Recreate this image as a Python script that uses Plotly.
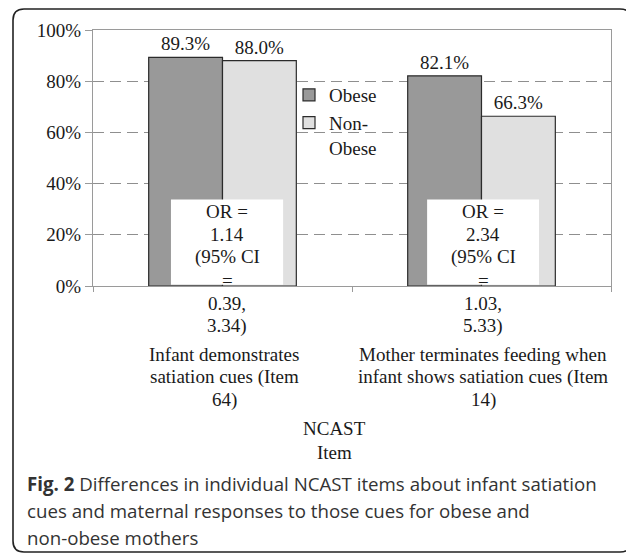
import plotly.graph_objects as go

# ---------------- data ----------------
categories = [
    "Infant demonstrates satiation cues (Item 64)",
    "Mother terminates feeding when infant shows satiation cues (Item 14)",
]
obese = [89.3, 82.1]
non_obese = [88.0, 66.3]
series_names = ["Obese", "Non-<br>Obese"]
y_ticks = [0, 20, 40, 60, 80, 100]
y_tick_labels = ["0%", "20%", "40%", "60%", "80%", "100%"]
category_label_lines = [
    ["Infant demonstrates", "satiation cues (Item", "64)"],
    ["Mother terminates feeding when", "infant shows satiation cues (Item", "14)"],
]
or_text_lines = [
    ["OR =", "1.14", "(95% CI", "=", "0.39,", "3.34)"],
    ["OR =", "2.34", "(95% CI", "=", "1.03,", "5.33)"],
]
axis_title_lines = ["NCAST", "Item"]
caption_lines = [
    "<b>Fig. 2</b> Differences in individual NCAST items about infant satiation",
    "cues and maternal responses to those cues for obese and",
    "non-obese mothers",
]

# ---------------- layout geometry ----------------
OFF = 8  # page body margin
W, H = 626, 547
L, R, T, B = 85, 23, 22, 269
PW, PH = W - L - R, H - T - B
BOTTOM = OFF + H - B  # screen y of the plot bottom
SERIF = "Liberation Serif, Times New Roman, serif"
TXT = "#1a1a1a"


def px_x(sx):
    return (sx - OFF - L) / PW


def px_y(sy):
    return (BOTTOM - sy) / PH


fig = go.Figure()
fig.add_trace(go.Bar(
    name=series_names[0], x=categories, y=obese,
    marker=dict(color="#999999", line=dict(color="#2b2b2b", width=1.2)),
    texttemplate="%{y:.1f}%", textposition="outside", cliponaxis=False,
    textfont=dict(family=SERIF, size=19, color=TXT),
))
fig.add_trace(go.Bar(
    name=series_names[1], x=categories, y=non_obese,
    marker=dict(color="#e0e0e0", line=dict(color="#2b2b2b", width=1.2)),
    texttemplate="%{y:.1f}%", textposition="outside", cliponaxis=False,
    textfont=dict(family=SERIF, size=19, color=TXT),
))

shapes = []
annotations = []
line_h = 23
# white OR boxes and their text
box_off = [(-0.199, 0.234), (-0.210, 0.222)]
for i, lines in enumerate(or_text_lines):
    x0, x1 = box_off[i]
    shapes.append(dict(type="rect", xref="x", yref="y", x0=i + x0, x1=i + x1,
                       y0=0.45, y1=33.8, fillcolor="white", line=dict(width=0),
                       layer="above"))
    cx = i + (x0 + x1) / 2
    for k, t in enumerate(lines):
        cy = 211 + k * line_h
        annotations.append(dict(text=t, xref="x", yref="paper", x=cx, y=0,
                                yshift=-(cy - BOTTOM), xanchor="center",
                                yanchor="middle", showarrow=False,
                                font=dict(family=SERIF, size=19, color=TXT)))
# category labels
for i, lines in enumerate(category_label_lines):
    for k, t in enumerate(lines):
        cy = 354 + k * line_h
        annotations.append(dict(text=t, xref="x", yref="paper", x=i + 0.006, y=0,
                                yshift=-(cy - BOTTOM), xanchor="center",
                                yanchor="middle", showarrow=False,
                                font=dict(family=SERIF, size=19, color=TXT)))
# axis title
for k, t in enumerate(axis_title_lines):
    cy = 428 + k * 24
    annotations.append(dict(text=t, xref="paper", yref="paper", x=px_x(334), y=0,
                            yshift=-(cy - BOTTOM), xanchor="center",
                            yanchor="middle", showarrow=False,
                            font=dict(family=SERIF, size=19, color=TXT)))
# caption
for k, t in enumerate(caption_lines):
    cy = 483 + k * 27
    annotations.append(dict(text=t, xref="paper", yref="paper", x=px_x(25), y=0,
                            yshift=-(cy - BOTTOM), xanchor="left",
                            yanchor="middle", showarrow=False,
                            font=dict(family="Open Sans, sans-serif", size=18.7,
                                      color="#333333")))

# rounded outer frame (screen coordinates)
fx0, fy0, fx1, fy1, rr = 13, 9, 631, 552, 11
p = lambda a, b: f"{px_x(a):.5f},{px_y(b):.5f}"
frame_path = (
    f"M{p(fx0 + rr, fy0)} L{p(fx1 - rr, fy0)} Q{p(fx1, fy0)} {p(fx1, fy0 + rr)} "
    f"L{p(fx1, fy1 - rr)} Q{p(fx1, fy1)} {p(fx1 - rr, fy1)} "
    f"L{p(fx0 + rr, fy1)} Q{p(fx0, fy1)} {p(fx0, fy1 - rr)} "
    f"L{p(fx0, fy0 + rr)} Q{p(fx0, fy0)} {p(fx0 + rr, fy0)} Z"
)
shapes.append(dict(type="path", xref="paper", yref="paper", path=frame_path,
                   line=dict(color="#222222", width=1.6), layer="above"))

fig.update_layout(
    width=W, height=H,
    margin=dict(l=L, r=R, t=T, b=B),
    paper_bgcolor="white", plot_bgcolor="white",
    barmode="group", bargap=0.43, bargroupgap=0,
    showlegend=True,
    legend=dict(x=px_x(289), y=px_y(76), xanchor="left", yanchor="top",
                valign="top",
                bgcolor="rgba(0,0,0,0)", borderwidth=0,
                font=dict(family=SERIF, size=19, color=TXT), tracegroupgap=0),
    shapes=shapes, annotations=annotations,
    xaxis=dict(range=[-0.5, 1.5], showticklabels=False, showgrid=False,
               showline=True, linecolor="#9a9a9a", linewidth=1.2, mirror=True,
               ticks="outside", tickson="boundaries", ticklen=5,
               tickcolor="#9a9a9a", tickwidth=1.2),
    yaxis=dict(range=[0, 100], tickvals=y_ticks, ticktext=y_tick_labels,
               showline=True, linecolor="#9a9a9a", linewidth=1.2, mirror=True,
               ticks="outside", ticklen=7, tickcolor="#9a9a9a", tickwidth=1.2,
               showgrid=True, gridcolor="#8f8f8f", gridwidth=1.2,
               griddash="11px,6px", zeroline=False,
               tickfont=dict(family=SERIF, size=19, color=TXT)),
)

fig.write_html("out.html")
